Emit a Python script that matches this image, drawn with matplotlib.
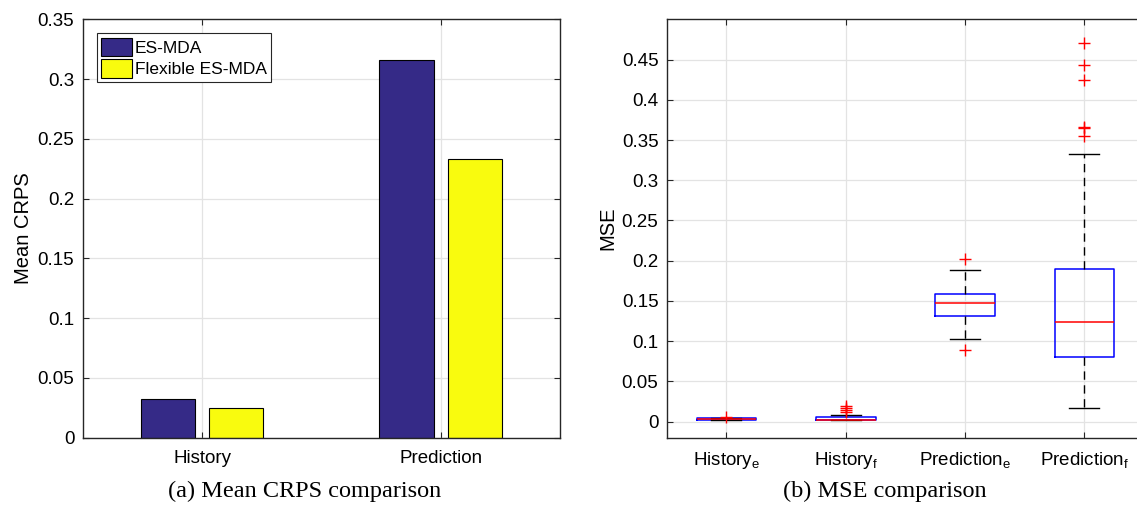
import numpy as np
import matplotlib
matplotlib.use('Agg')
from matplotlib import pyplot as plt

plt.rcParams['font.family'] = ['Liberation Sans', 'DejaVu Sans']
plt.rcParams['mathtext.fontset'] = 'custom'
plt.rcParams['mathtext.rm'] = 'Liberation Sans'
plt.rcParams['mathtext.it'] = 'Liberation Sans'

# Mean CRPS
phases = ['History', 'Prediction']
crps_esmda = [0.0325, 0.3156]
crps_flex = [0.0251, 0.2333]

# MSE boxes (whisker low, q1, median, q3, whisker high, outliers)
box_labels = ['History$_{\\rm e}$', 'History$_{\\rm f}$',
              'Prediction$_{\\rm e}$', 'Prediction$_{\\rm f}$']
whislo = [0.0015, 0.0015, 0.1025, 0.0168]
q1 = [0.0020, 0.0020, 0.1312, 0.0806]
med = [0.0030, 0.0026, 0.1477, 0.1235]
q3 = [0.0042, 0.0053, 0.1588, 0.1893]
whishi = [0.0050, 0.0086, 0.1890, 0.3325]
fliers = [
    [0.0058],
    [0.0120, 0.0140, 0.0170, 0.0189],
    [0.2020, 0.0896],
    [0.4710, 0.4430, 0.4250, 0.3667, 0.3646, 0.3555],
]

navy = '#352a87'
yellow = '#f9fb0e'
grid_col = '#e3e3e3'
spine_col = '#262626'

fig = plt.figure(figsize=(11.37, 5.18), dpi=100)
ax1 = fig.add_axes([0.0727, 0.155, 0.420, 0.8077])
ax2 = fig.add_axes([0.5864, 0.155, 0.4198, 0.8077])

for ax in (ax1, ax2):
    ax.set_axisbelow(True)
    ax.grid(True, color=grid_col, linewidth=0.9)
    ax.tick_params(direction='in', top=True, right=True, labelsize=13.5,
                   length=4, color=spine_col, pad=6)
    ax.tick_params(axis='x', pad=9)
    for s in ax.spines.values():
        s.set_color(spine_col)
        s.set_linewidth(1.0)

# grouped bars
x = np.arange(1, len(phases) + 1)
w = 0.229
ax1.bar(x - 0.1425, crps_esmda, w, color=navy, edgecolor='black', linewidth=0.8, label='ES-MDA')
ax1.bar(x + 0.1425, crps_flex, w, color=yellow, edgecolor='black', linewidth=0.8, label='Flexible ES-MDA')
ax1.set_xlim(0.5, 2.5)
ax1.set_ylim(0, 0.35)
ax1.set_xticks(x)
ax1.set_xticklabels(phases)
ax1.set_yticks(np.arange(0, 0.351, 0.05))
ax1.set_yticklabels(['0', '0.05', '0.1', '0.15', '0.2', '0.25', '0.3', '0.35'])
ax1.set_ylabel('Mean CRPS', fontsize=14.5, labelpad=3)
leg = ax1.legend(loc='upper left', fontsize=12.5, fancybox=False, edgecolor='#262626',
                 handlelength=1.8, handleheight=1.3, handletextpad=0.15,
                 borderpad=0.25, labelspacing=0.15, borderaxespad=0.8, framealpha=1)
leg.get_frame().set_linewidth(0.8)

# box plot from summary stats
stats = []
for i in range(len(box_labels)):
    stats.append(dict(label=box_labels[i], whislo=whislo[i], q1=q1[i], med=med[i],
                      q3=q3[i], whishi=whishi[i], fliers=fliers[i]))
ax2.bxp(stats, positions=np.arange(1, 5), widths=0.5, showfliers=True,
        boxprops=dict(color='blue', linewidth=1.1),
        medianprops=dict(color='red', linewidth=1.1),
        whiskerprops=dict(color='black', linestyle=(0, (6, 4)), linewidth=1.0),
        capprops=dict(color='black', linewidth=1.0),
        capwidths=0.25,
        flierprops=dict(marker='+', markeredgecolor='red', markersize=8, markeredgewidth=1.0))
ax2.set_xlim(0.5, 4.5)
ax2.set_ylim(-0.02, 0.5)
ax2.set_yticks(np.arange(0, 0.451, 0.05))
ax2.set_yticklabels(['0', '0.05', '0.1', '0.15', '0.2', '0.25', '0.3', '0.35', '0.4', '0.45'])
ax2.set_ylabel('MSE', fontsize=14.5, labelpad=3)

fig.text(0.268, 0.052, '(a) Mean CRPS comparison', ha='center', va='center',
         fontsize=17.5, family='Liberation Serif')
fig.text(0.778, 0.052, '(b) MSE comparison', ha='center', va='center',
         fontsize=17.5, family='Liberation Serif')

fig.savefig('out.png', dpi=100)
